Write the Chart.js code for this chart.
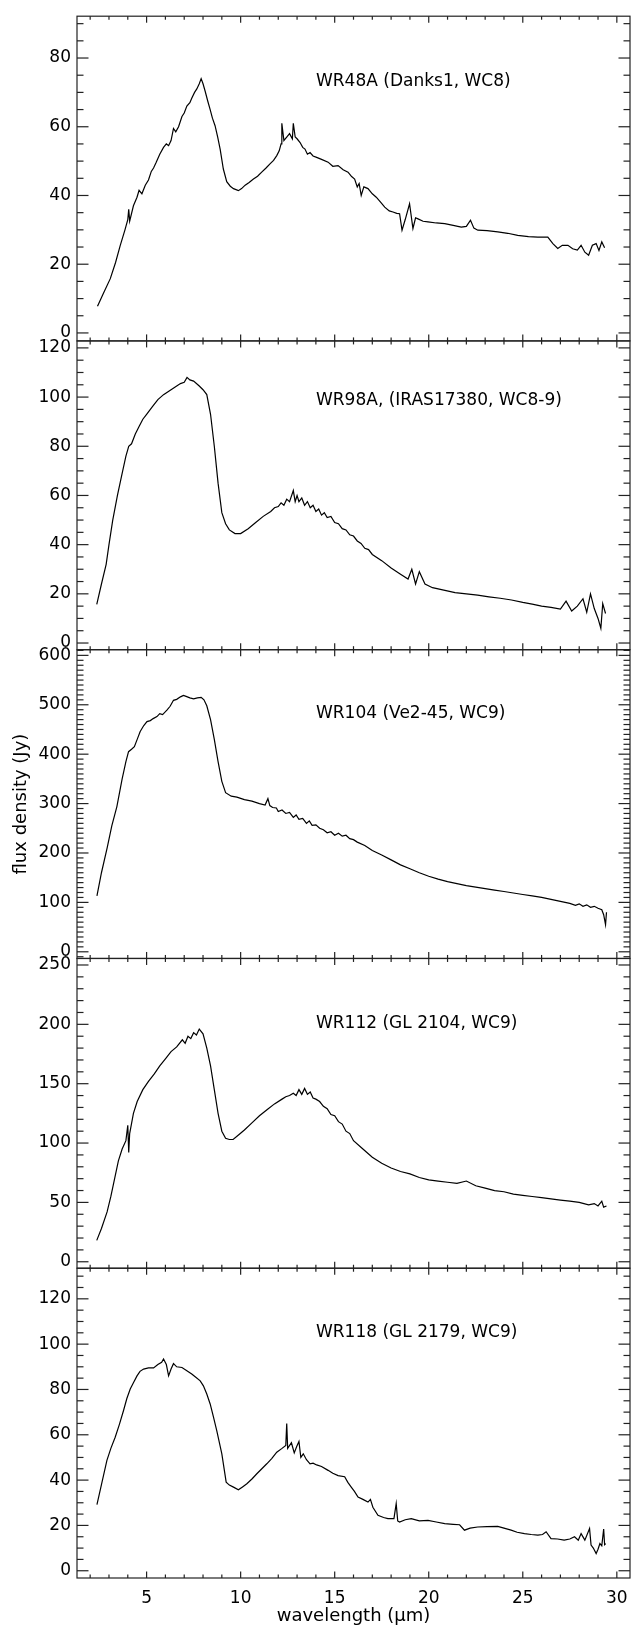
<!DOCTYPE html>
<html>
<head>
<meta charset="utf-8">
<title>WC star spectra</title>
<script src="https://cdn.jsdelivr.net/npm/chart.js@4.4.1/dist/chart.umd.min.js"></script>
<style>
  html, body { margin: 0; padding: 0; background: #fff; }
  #wrap { width: 638px; height: 1628px; }
</style>
</head>
<body>
<div id="wrap"><canvas id="spec" width="638" height="1628"></canvas></div>
<script>
// spectra: [wavelength (um), flux density (Jy)]
const wr48a = [[2.39,7.8],[2.7,11.5],[3.07,15.8],[3.35,20.5],[3.6,25.5],[3.85,30],[4.0,33],[4.05,36],[4.1,32.5],[4.3,37],[4.49,39.5],[4.6,41.5],[4.75,40.5],[4.93,43],[5.1,44.5],[5.25,47],[5.37,48],[5.5,49.5],[5.7,52],[5.9,54],[6.05,55],[6.17,54.5],[6.3,56],[6.43,59.5],[6.55,58.5],[6.7,60],[6.88,63],[7.0,64],[7.14,66],[7.3,67],[7.4,68.3],[7.55,70],[7.67,71],[7.8,72.5],[7.9,74],[8.0,72.5],[8.11,70.4],[8.25,67.5],[8.38,65],[8.5,62.5],[8.64,60.3],[8.78,57],[8.91,53.5],[9.08,47.7],[9.26,44],[9.45,42.7],[9.62,42],[9.88,41.4],[10.05,42],[10.24,43],[10.45,43.8],[10.68,44.8],[10.9,45.6],[11.12,46.8],[11.35,48],[11.56,49.2],[11.75,50.2],[11.92,51.6],[12.05,53],[12.15,55],[12.19,61],[12.3,56],[12.45,57],[12.6,58],[12.75,56.5],[12.8,61],[12.9,57],[13.0,56.5],[13.16,55.4],[13.3,54],[13.42,53.5],[13.55,52],[13.69,52.5],[13.85,51.5],[14.04,51.1],[14.3,50.5],[14.65,49.7],[14.9,48.5],[15.18,48.7],[15.45,47.5],[15.71,46.8],[15.9,45.5],[16.06,44.8],[16.2,42.5],[16.3,43.5],[16.41,40],[16.55,42.5],[16.77,42],[17.0,40.5],[17.21,39.5],[17.45,38],[17.66,36.6],[17.9,35.5],[18.1,35.2],[18.3,34.8],[18.45,34.7],[18.58,29.9],[18.75,33],[18.98,37.6],[19.16,30.4],[19.3,33.5],[19.43,33.2],[19.7,32.5],[19.96,32.3],[20.4,32],[20.85,31.8],[21.3,31.3],[21.73,30.8],[22.0,31],[22.22,32.8],[22.4,30.5],[22.61,29.9],[23.1,29.8],[23.67,29.4],[24.2,29],[24.73,28.4],[25.3,28],[25.8,27.9],[26.33,27.9],[26.6,26],[26.86,24.6],[27.1,25.5],[27.4,25.5],[27.65,24.5],[27.9,24.1],[28.1,25.5],[28.3,23.5],[28.5,22.6],[28.7,25.5],[28.9,26],[29.05,24],[29.2,26.5],[29.35,24.8]];

const wr98a = [[2.35,15.7],[2.6,24],[2.85,32],[3.0,40],[3.2,50],[3.45,60],[3.7,69],[3.9,76],[4.05,80],[4.2,81],[4.4,85],[4.6,88],[4.8,91],[5.0,93],[5.3,96],[5.6,99],[5.9,101],[6.2,102.5],[6.5,104],[6.8,105.5],[7.0,106],[7.15,108],[7.3,107],[7.5,106.5],[7.8,104.5],[8.0,103],[8.2,101],[8.4,93],[8.6,80],[8.8,65],[9.0,53],[9.2,48.5],[9.4,46],[9.7,44.5],[10.0,44.5],[10.4,46.5],[10.8,49],[11.2,51.5],[11.6,53.5],[11.8,55],[12.0,55.5],[12.15,57],[12.3,56],[12.45,58.5],[12.6,57.5],[12.8,62],[12.9,57.5],[13.0,60],[13.1,57.5],[13.25,59],[13.4,56],[13.55,57.5],[13.7,55],[13.85,56],[14.0,53.5],[14.15,54.5],[14.3,52],[14.45,53],[14.6,51],[14.8,51.5],[15.0,49],[15.2,48.5],[15.4,46.5],[15.6,46],[15.8,44],[16.0,43.5],[16.2,41.5],[16.4,40.5],[16.6,38.5],[16.8,38],[17.0,36],[17.5,33.5],[18.0,30.5],[18.5,28],[18.9,26],[19.1,30],[19.3,24],[19.5,29],[19.8,24],[20.2,22.5],[20.8,21.5],[21.4,20.5],[22.0,20],[22.6,19.5],[23.2,18.8],[23.8,18.2],[24.4,17.5],[25.0,16.5],[25.5,15.8],[26.0,15],[26.5,14.5],[27.0,13.8],[27.3,17],[27.6,13],[27.9,15],[28.2,18],[28.4,12.5],[28.6,20],[28.8,14],[29.0,10],[29.15,6],[29.25,16],[29.4,12]];

const wr104 = [[2.36,113],[2.6,160],[2.9,210],[3.15,255],[3.42,294],[3.7,350],[3.9,385],[4.04,405],[4.2,410],[4.35,415],[4.5,430],[4.66,446],[4.85,458],[5.02,466],[5.2,468],[5.35,472],[5.55,476],[5.7,482],[5.85,480],[6.08,489],[6.25,497],[6.43,509],[6.6,511],[6.8,516],[6.96,519],[7.1,517],[7.3,514],[7.5,512],[7.7,514],[7.9,515],[8.05,510],[8.2,498],[8.4,470],[8.6,430],[8.8,385],[9.0,345],[9.2,322],[9.5,315],[9.8,313],[10.2,308],[10.6,305],[11.0,300],[11.3,297],[11.45,310],[11.55,296],[11.7,292],[11.9,291],[12.0,284],[12.2,287],[12.4,280],[12.6,282],[12.8,272],[12.95,277],[13.1,268],[13.3,270],[13.5,260],[13.65,265],[13.8,256],[14.0,257],[14.2,250],[14.4,247],[14.6,241],[14.8,243],[15.0,236],[15.2,240],[15.4,234],[15.6,236],[15.8,229],[16.0,227],[16.2,222],[16.6,215],[17.0,205],[17.5,196],[18.0,186],[18.5,176],[19.0,168],[19.5,160],[20.0,153],[20.5,147],[21.0,142],[21.5,138],[22.0,134],[22.5,131],[23.0,128],[23.5,125],[24.0,122],[24.5,119],[25.0,116],[25.5,113],[26.0,110],[26.5,106],[27.0,102],[27.5,98],[27.8,94],[28.0,97],[28.2,92],[28.4,95],[28.6,90],[28.8,92],[29.0,88],[29.2,85],[29.3,75],[29.4,55],[29.45,80]];

const wr112 = [[2.35,18],[2.6,28],[2.9,42],[3.1,55],[3.3,70],[3.5,85],[3.7,95],[3.9,102],[4.0,115],[4.05,92],[4.1,108],[4.3,125],[4.5,135],[4.8,145],[5.1,152],[5.4,158],[5.7,165],[6.0,171],[6.3,177],[6.6,181],[6.9,187],[7.05,184],[7.2,190],[7.35,188],[7.5,193],[7.65,191],[7.8,196],[8.0,192],[8.2,180],[8.4,165],[8.6,145],[8.8,125],[9.0,110],[9.2,104],[9.4,103],[9.6,103],[9.9,107],[10.2,111],[10.6,117],[11.0,123],[11.4,128],[11.8,133],[12.2,137],[12.4,139],[12.6,140],[12.8,142],[12.95,140],[13.1,145],[13.25,141],[13.4,146],[13.55,141],[13.7,143],[13.85,138],[14.0,137],[14.2,135],[14.4,131],[14.6,129],[14.8,124],[15.0,123],[15.2,118],[15.4,116],[15.6,110],[15.8,108],[16.0,102],[16.5,95],[17.0,88],[17.5,83],[18.0,79],[18.5,76],[19.0,74],[19.5,71],[20.0,69],[20.5,68],[21.0,67],[21.5,66],[22.0,68],[22.5,64],[23.0,62],[23.5,60],[24.0,59],[24.5,57],[25.0,56],[25.5,55],[26.0,54],[26.5,53],[27.0,52],[27.5,51],[28.0,50],[28.5,48],[28.8,49],[29.0,47],[29.2,51],[29.3,46],[29.45,47]];

const wr118 = [[2.36,29.2],[2.6,38],[2.89,48.7],[3.1,54],[3.33,58.9],[3.55,64.5],[3.77,70.6],[3.95,76],[4.13,80.2],[4.3,83],[4.49,86],[4.65,88],[4.84,89],[5.1,89.5],[5.37,89.5],[5.6,91],[5.8,92],[5.9,93.4],[6.05,91],[6.17,86],[6.3,89],[6.43,91.4],[6.6,90],[6.88,89.7],[7.1,88.5],[7.4,86.8],[7.6,85.5],[7.85,83.8],[8.02,81.6],[8.2,78],[8.38,73.6],[8.55,68],[8.73,61.8],[9.0,51.6],[9.23,39.1],[9.4,37.8],[9.62,36.9],[9.88,35.7],[10.1,37],[10.33,38.4],[10.6,40.5],[10.86,42.8],[11.1,44.8],[11.39,47.2],[11.65,49.5],[11.92,52.3],[12.2,54],[12.4,55.3],[12.45,65],[12.5,54],[12.7,56.5],[12.85,52],[12.98,54.8],[13.1,57],[13.2,50],[13.33,51.6],[13.5,49],[13.69,47.2],[13.85,47.5],[14.04,46.7],[14.3,46],[14.65,44.3],[14.9,43],[15.18,42],[15.53,41.5],[15.7,39],[15.88,36.9],[16.05,35],[16.24,32.5],[16.5,31.5],[16.77,30.3],[16.9,31.5],[17.03,28],[17.3,24.5],[17.6,23.5],[17.83,23],[18.15,23],[18.27,29.6],[18.35,22],[18.45,21.5],[18.75,22.5],[19.07,23],[19.5,22],[19.96,22.2],[20.4,21.5],[20.85,20.8],[21.3,20.5],[21.64,20.3],[21.9,17.9],[22.2,18.8],[22.6,19.3],[23.1,19.5],[23.67,19.6],[24.0,18.8],[24.38,17.9],[24.7,17],[25.09,16.4],[25.45,16],[25.8,15.7],[26.05,16],[26.24,17.2],[26.5,14.2],[26.85,14],[27.2,13.5],[27.5,14],[27.75,15],[27.95,13.5],[28.1,16.4],[28.3,13.5],[28.55,18.6],[28.63,11.3],[28.75,10],[28.9,7.6],[29.0,9.5],[29.1,12],[29.2,11],[29.3,18.4],[29.35,11.5],[29.41,12]];

const spectra = [wr48a, wr98a, wr104, wr112, wr118];
const panelLabels = ['WR48A (Danks1, WC8)', 'WR98A, (IRAS17380, WC8-9)', 'WR104 (Ve2-45, WC9)', 'WR112 (GL 2104, WC9)', 'WR118 (GL 2179, WC9)'];

// axes
const xTicks = [5, 10, 15, 20, 25, 30];
const yTicks = [
  [0, 20, 40, 60, 80],
  [0, 20, 40, 60, 80, 100, 120],
  [0, 100, 200, 300, 400, 500, 600],
  [0, 50, 100, 150, 200, 250],
  [0, 20, 40, 60, 80, 100, 120]
];
const yMin = [-2.32, -2.71, -13.5, -5.45, -3.2];
const yMax = [92.17, 122.84, 611.5, 255.5, 133.5];
const yMinor = [5, 5, 10, 10, 5];
const panelHeight = [326, 310, 310, 311, 311];
const labelDrop = [65, 60, 64, 65, 64];

const FONT = 'DejaVu Sans';
const INK = '#000';

const scales = {
  x: {
    type: 'linear', position: 'bottom', min: 1.3, max: 30.7,
    afterBuildTicks: s => { s.ticks = xTicks.map(v => ({ value: v })); },
    afterFit: s => { s.height = 50; },
    grid: { display: false, drawTicks: false },
    border: { display: false },
    ticks: { autoSkip: false, maxRotation: 0, padding: 10, color: INK, font: { family: FONT, size: 17 } },
    title: { display: true, text: 'wavelength (\u03bcm)', color: INK, font: { family: FONT, size: 18 }, padding: { top: 0, bottom: 1 } }
  }
};

yTicks.forEach((tk, i) => {
  scales['y' + (i + 1)] = {
    type: 'linear', position: 'left', stack: 'panels', stackWeight: panelHeight[i], weight: 5 - i,
    min: yMin[i], max: yMax[i],
    afterBuildTicks: s => { s.ticks = tk.map(v => ({ value: v })); },
    afterFit: s => { s.width = 77; },
    grid: { display: false, drawTicks: false },
    border: { display: false },
    ticks: { autoSkip: false, padding: 6, color: INK, font: { family: FONT, size: 17 } },
    title: i === 2
      ? { display: true, text: 'flux density (Jy)', color: INK, font: { family: FONT, size: 18 }, padding: { top: 11, bottom: 0 } }
      : { display: false }
  };
});

// frame, inward ticks and star labels for each panel
const framePlugin = {
  id: 'frame',
  afterDraw(chart) {
    const ctx = chart.ctx;
    const xs = chart.scales.x;
    const L = xs.left, R = xs.right;
    const seg = (x1, y1, x2, y2) => { ctx.beginPath(); ctx.moveTo(x1, y1); ctx.lineTo(x2, y2); ctx.stroke(); };
    ctx.save();
    ctx.strokeStyle = '#222';
    ctx.lineWidth = 1.2;
    spectra.forEach((d, i) => {
      const ys = chart.scales['y' + (i + 1)];
      const T = ys.top, B = ys.bottom;
      ctx.strokeRect(L, T, R - L, B - T);
      const step = yMinor[i];
      const majorStep = yTicks[i][1];
      for (let v = Math.ceil(ys.min / step) * step; v <= ys.max; v += step) {
        const py = ys.getPixelForValue(v);
        const major = Math.abs(v / majorStep - Math.round(v / majorStep)) < 1e-6;
        const len = major ? 11.5 : 6.5;
        seg(L, py, L + len, py);
        seg(R, py, R - len, py);
      }
      for (let w = 2; w <= 30; w++) {
        const px = xs.getPixelForValue(w);
        const len = w % 5 === 0 ? 6.5 : 3.5;
        seg(px, B, px, B - len);
        seg(px, T, px, T + len);
      }
      ctx.fillStyle = INK;
      ctx.font = '17px "' + FONT + '"';
      ctx.textAlign = 'left';
      ctx.textBaseline = 'middle';
      ctx.fillText(panelLabels[i], 316, T + labelDrop[i]);
    });
    ctx.restore();
  }
};

new Chart(document.getElementById('spec'), {
  type: 'line',
  data: {
    datasets: spectra.map((d, i) => ({
      label: panelLabels[i],
      data: d.map(p => ({ x: p[0], y: p[1] })),
      xAxisID: 'x',
      yAxisID: 'y' + (i + 1),
      borderColor: INK,
      borderWidth: 1.2,
      pointRadius: 0,
      tension: 0,
      fill: false
    }))
  },
  options: {
    responsive: false,
    animation: false,
    devicePixelRatio: 1,
    layout: { padding: { left: 0, right: 8, top: 10, bottom: 0 } },
    plugins: { legend: { display: false }, tooltip: { enabled: false } },
    scales
  },
  plugins: [framePlugin]
});
</script>
</body>
</html>
